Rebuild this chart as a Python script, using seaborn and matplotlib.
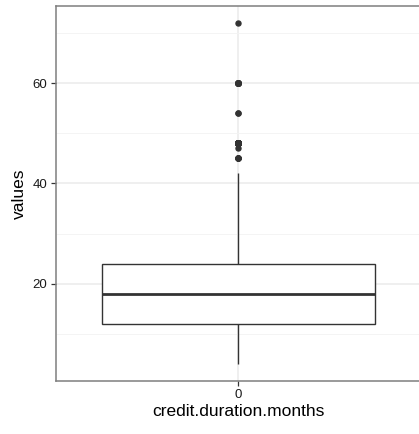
import numpy as np
import pandas as pd
import matplotlib
matplotlib.use("Agg")
import matplotlib.pyplot as plt
import seaborn as sns

# credit duration (months) and how often each occurs
duration_months = [4, 5, 6, 7, 8, 9, 10, 11, 12, 13, 14, 15, 16, 18, 20, 21, 22,
                   24, 26, 27, 28, 30, 33, 36, 39, 40, 42, 45, 47, 48, 54, 60, 72]
duration_counts = [6, 1, 75, 5, 7, 49, 28, 9, 179, 4, 4, 64, 2, 113, 8, 30, 2,
                   184, 1, 13, 3, 40, 3, 83, 5, 1, 11, 5, 1, 48, 2, 13, 1]
group_label = ["0"]
y_ticks = [20, 40, 60]
y_minor = [10, 30, 50, 70]

values = np.repeat(duration_months, duration_counts)
df = pd.DataFrame({"group": group_label * len(values), "values": values})

sns.set_style("white")
plt.rcParams["font.family"] = ["Liberation Sans", "DejaVu Sans"]

fig = plt.figure(figsize=(4.19, 4.34), dpi=100)
W, H = 419, 434
left, right, top, bottom = 56, 420, 6, 381
ax = fig.add_axes([left / W, 1 - bottom / H, (right - left) / W, (bottom - top) / H])

dark = "#333333"
sns.boxplot(data=df, x="group", y="values", ax=ax, width=0.9, whis=1.5,
            color="white", linecolor=dark, linewidth=1.0, showcaps=False,
            medianprops=dict(color=dark, linewidth=2.0),
            flierprops=dict(marker="o", markerfacecolor=dark, markeredgecolor=dark,
                            markersize=3.6))

lo, hi = values.min(), values.max()
pad = (hi - lo) * 0.05
ax.set_ylim(lo - pad, hi + pad)
ax.set_xlim(-0.6, 0.6)
ax.set_yticks(y_ticks)
ax.set_yticks(y_minor, minor=True)
ax.grid(True, which="major", color="#EBEBEB", linewidth=1.1)
ax.grid(True, which="minor", axis="y", color="#F3F3F3", linewidth=0.6)
ax.set_axisbelow(True)

for s in ax.spines.values():
    s.set_color("#7F7F7F")
    s.set_linewidth(1.1)

ax.tick_params(axis="both", which="major", direction="out", length=3.6, width=0.9,
               left=True, bottom=True,
               color=dark, labelcolor="#1a1a1a", labelsize=9.5, pad=2.5)
ax.tick_params(axis="both", which="minor", length=0)
ax.set_xlabel("credit.duration.months", fontsize=12.5, color="black", labelpad=2)
ax.set_ylabel("values", fontsize=12.5, color="black", labelpad=4)

fig.savefig("out.png", dpi=100)
